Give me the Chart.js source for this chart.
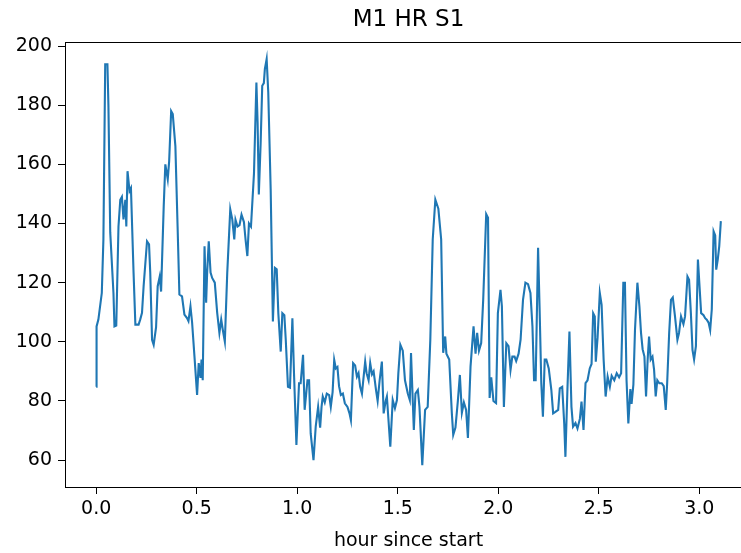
<!DOCTYPE html>
<html>
<head>
<meta charset="utf-8">
<script src="https://cdn.jsdelivr.net/npm/chart.js@4/dist/chart.umd.min.js"></script>
<style>
html,body{margin:0;padding:0;background:#fff;overflow:hidden;}
#wrap{width:741px;height:553px;overflow:hidden;position:relative;}
#c{position:absolute;left:0;top:0;}
</style>
</head>
<body>
<div id="wrap"><canvas id="c" width="752" height="553"></canvas></div>
<script>
const chartTitle = "M1 HR S1";
const xAxisLabel = "hour since start";
const xTickValues = [0.0, 0.5, 1.0, 1.5, 2.0, 2.5, 3.0];
const yTickValues = [60, 80, 100, 120, 140, 160, 180, 200];

const hours = [
0.000,0.002,0.011,0.028,0.036,0.045,0.056,0.061,0.070,0.086,0.091,0.100,0.111,0.120,0.128,0.136,0.145,0.150,0.156,0.166,
0.173,0.186,0.195,0.211,0.219,0.228,0.236,0.253,0.263,0.269,0.278,0.286,0.298,0.306,0.316,0.323,0.336,0.344,0.356,0.363,
0.373,0.381,0.394,0.405,0.414,0.427,0.439,0.452,0.459,0.469,0.477,0.489,0.502,0.510,0.519,0.524,0.530,0.539,0.547,0.552,
0.560,0.569,0.577,0.590,0.602,0.613,0.622,0.630,0.640,0.652,0.667,0.677,0.687,0.693,0.703,0.713,0.723,0.735,0.743,0.752,
0.760,0.770,0.785,0.797,0.803,0.809,0.818,0.826,0.834,0.839,0.848,0.856,0.868,0.879,0.889,0.898,0.906,0.918,0.926,0.936,
0.943,0.954,0.964,0.976,0.984,0.996,1.009,1.017,1.029,1.037,1.051,1.059,1.067,1.081,1.092,1.104,1.114,1.121,1.127,1.137,
1.147,1.159,1.167,1.176,1.184,1.192,1.200,1.208,1.217,1.227,1.237,1.250,1.260,1.267,1.278,1.288,1.297,1.305,1.313,1.322,
1.330,1.338,1.345,1.355,1.363,1.372,1.380,1.392,1.400,1.410,1.421,1.430,1.440,1.446,1.453,1.463,1.475,1.486,1.496,1.503,
1.513,1.525,1.536,1.550,1.560,1.566,1.580,1.588,1.600,1.608,1.622,1.636,1.649,1.662,1.674,1.687,1.702,1.716,1.726,1.736,
1.742,1.756,1.769,1.776,1.787,1.799,1.809,1.819,1.829,1.840,1.849,1.862,1.877,1.887,1.895,1.904,1.915,1.925,1.940,1.949,
1.957,1.965,1.976,1.989,1.998,2.011,2.018,2.028,2.040,2.051,2.061,2.070,2.081,2.089,2.101,2.111,2.123,2.135,2.148,2.160,
2.170,2.178,2.186,2.198,2.206,2.214,2.222,2.231,2.239,2.251,2.264,2.273,2.284,2.298,2.306,2.318,2.328,2.334,2.344,2.354,
2.364,2.372,2.384,2.394,2.406,2.414,2.424,2.434,2.444,2.455,2.464,2.472,2.480,2.485,2.494,2.505,2.514,2.524,2.534,2.544,
2.555,2.564,2.577,2.589,2.601,2.611,2.622,2.630,2.638,2.647,2.657,2.663,2.672,2.680,2.692,2.702,2.710,2.718,2.727,2.735,
2.743,2.750,2.758,2.767,2.775,2.783,2.791,2.801,2.813,2.823,2.833,2.840,2.850,2.859,2.868,2.879,2.891,2.899,2.909,2.921,
2.929,2.941,2.949,2.958,2.966,2.974,2.983,2.993,3.001,3.009,3.021,3.029,3.037,3.046,3.054,3.062,3.071,3.079,3.084,3.092,
3.099,3.107
];

const heartRate = [
84.8,105.2,107.5,116.5,134.6,193.9,193.9,179.8,137,116.5,105.2,105.5,139,148,149,141.4,148,139,157.7,151,
152,123.4,105.8,105.8,107.5,109.8,118.8,134,133,123.4,100.7,99,105,118.8,122,117,145.9,160,155,161,
178,177,166.2,139,116,115.4,109.2,108,107,112,106.7,95,82,92.8,87.8,94,87,132.3,113.2,123.4,
134,123.4,121.6,120,109.8,103,107.5,104,100.1,123.4,144.8,141.4,134.6,141.3,139,139.5,143,140.5,134.6,129,
140,139,157,187.7,174,149.8,167,186.6,187.5,192.2,195.6,184.3,151.5,106.9,125,124.5,109.7,96.7,109.7,109,
100.7,84.8,84.5,108,89.4,65.1,86,86,95.6,77,87,87,69,60,71.3,78,71,78,81.5,79.5,
82.5,82,78,83,93.9,91,91.5,85,82,82.5,79.2,78,75.8,73.5,92.8,92,88.2,89.4,84.8,82.5,
88,93.3,89.4,87,92.8,89,90,83.7,80,87,93.3,75.8,80,81.5,74.5,64.5,80.3,77.5,80.3,89.4,
99,97,87,82.5,80.3,96.2,70.2,82.5,83.7,78,58.3,77,78,100.7,134.6,148.1,145,134.6,96.3,101.8,
96,94,75.9,68.5,71,80,88.8,76,79.5,77,67.5,91.6,105.2,96,103,97,99.6,114.2,143.2,142,
81,88,80,79.3,109.7,117.6,112,78,99.5,98.5,90.5,95,95,93.5,96,100.7,114.2,120,119.5,116.5,
105.2,87,87,131.8,110,86,74.7,94,94,91,83.7,75.8,76.3,77,84.3,84.8,72.4,61.1,84,103.5,
78,71.3,72.5,70.7,74,79.8,70.2,86,87,91,92.5,109.7,108.6,93.3,101.5,116.5,112.5,94,81.5,88.2,
84.8,88.5,87,89.4,88,89.4,120,120,87,72.4,84,79,85.5,104,120,112,103,97.5,95,81.5,
94,101.8,94,95,90.5,81.5,87,86,86,85,77,86,103,114.2,115,108.6,100.7,103,108.6,106,
108.6,122.1,121,109.7,97.3,94,98.5,127.8,118.8,109.7,109,108,107.5,106.5,104,111,137.4,136,124.4,128,
132.3,140.8
];

const points = hours.map((h, i) => ({ x: h, y: heartRate[i] }));

const topSpine = {
  id: 'topSpine',
  afterDraw(chart) {
    const { ctx, chartArea } = chart;
    ctx.save();
    ctx.strokeStyle = '#000';
    ctx.lineWidth = 1;
    ctx.beginPath();
    ctx.moveTo(chartArea.left, chartArea.top + 0.5);
    ctx.lineTo(chartArea.right + 2, chartArea.top + 0.5);
    ctx.stroke();
    ctx.restore();
  }
};

const FONT = "'DejaVu Sans', sans-serif";

new Chart(document.getElementById('c'), {
  type: 'line',
  data: {
    datasets: [{
      data: points,
      borderColor: '#1f77b4',
      borderWidth: 2.1,
      pointRadius: 0,
      tension: 0,
      fill: false
    }]
  },
  options: {
    responsive: false,
    animation: false,
    devicePixelRatio: 1,
    layout: { padding: { left: 0, right: 0, top: 0, bottom: 0 } },
    plugins: {
      legend: { display: false },
      tooltip: { enabled: false },
      title: {
        display: true,
        text: chartTitle,
        fullSize: false,
        color: '#000',
        font: { family: FONT, size: 23, weight: 'normal' },
        padding: { top: 6, bottom: 8.4 }
      }
    },
    scales: {
      x: {
        type: 'linear',
        min: -0.155,
        max: 3.262,
        afterBuildTicks(scale) { scale.ticks = xTickValues.map(v => ({ value: v })); },
        afterFit(scale) { scale.height = 66; },
        ticks: {
          color: '#000',
          font: { family: FONT, size: 19 },
          padding: 4,
          maxRotation: 0,
          autoSkip: false,
          callback: v => Number(v).toFixed(1)
        },
        grid: { display: true, drawOnChartArea: false, drawTicks: true, tickLength: 7, color: '#000', lineWidth: 1 },
        border: { display: true, color: '#000', width: 1 },
        title: {
          display: true,
          text: xAxisLabel,
          color: '#000',
          font: { family: FONT, size: 19 },
          padding: { top: 2, bottom: 1 }
        }
      },
      y: {
        type: 'linear',
        min: 50.9,
        max: 201.4,
        afterBuildTicks(scale) { scale.ticks = yTickValues.map(v => ({ value: v })); },
        afterFit(scale) { scale.width = 65; },
        ticks: {
          color: '#000',
          font: { family: FONT, size: 19 },
          padding: 6,
          autoSkip: false,
          callback: v => String(v)
        },
        grid: { display: true, drawOnChartArea: false, drawTicks: true, tickLength: 7, color: '#000', lineWidth: 1 },
        border: { display: true, color: '#000', width: 1 }
      }
    }
  },
  plugins: [topSpine]
});
</script>
</body>
</html>
